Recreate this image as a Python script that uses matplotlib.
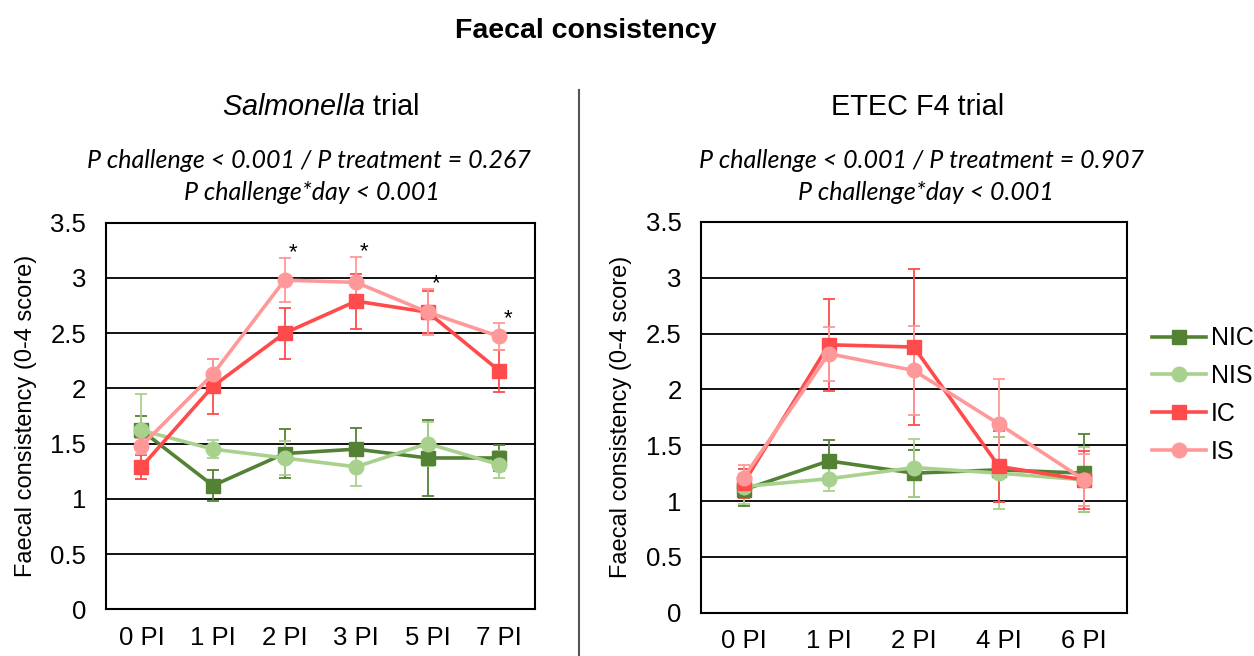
import matplotlib
matplotlib.use("Agg")
import matplotlib.pyplot as plt
from matplotlib.lines import Line2D
import numpy as np

plt.rcParams['font.family'] = ['Liberation Sans', 'DejaVu Sans']
plt.rcParams['mathtext.fontset'] = 'custom'
plt.rcParams['mathtext.it'] = 'Liberation Sans:italic'
plt.rcParams['mathtext.rm'] = 'Liberation Sans'

groups = ['NIC', 'NIS', 'IC', 'IS']
colors = {'NIC': '#548235', 'NIS': '#A9D18E', 'IC': '#FF4B4B', 'IS': '#FF9999'}
markers = {'NIC': 's', 'NIS': 'o', 'IC': 's', 'IS': 'o'}

# Salmonella trial
sal_days = ['0 PI', '1 PI', '2 PI', '3 PI', '5 PI', '7 PI']
sal_mean = {
    'NIC': [1.62, 1.12, 1.41, 1.45, 1.37, 1.37],
    'NIS': [1.62, 1.45, 1.37, 1.29, 1.50, 1.31],
    'IC':  [1.29, 2.02, 2.50, 2.79, 2.69, 2.16],
    'IS':  [1.48, 2.13, 2.98, 2.96, 2.69, 2.47],
}
sal_err = {
    'NIC': [0.13, 0.14, 0.22, 0.19, 0.34, 0.12],
    'NIS': [0.33, 0.08, 0.15, 0.17, 0.20, 0.12],
    'IC':  [0.11, 0.25, 0.23, 0.25, 0.19, 0.19],
    'IS':  [0.07, 0.14, 0.20, 0.23, 0.21, 0.12],
}
sal_signif = [False, False, True, True, True, True]

# ETEC F4 trial
etec_days = ['0 PI', '1 PI', '2 PI', '4 PI', '6 PI']
etec_mean = {
    'NIC': [1.10, 1.36, 1.25, 1.28, 1.25],
    'NIS': [1.13, 1.20, 1.30, 1.25, 1.19],
    'IC':  [1.16, 2.40, 2.38, 1.31, 1.19],
    'IS':  [1.21, 2.32, 2.17, 1.69, 1.19],
}
etec_err = {
    'NIC': [0.14, 0.19, 0.21, 0.29, 0.35],
    'NIS': [0.16, 0.11, 0.26, 0.32, 0.29],
    'IC':  [0.13, 0.41, 0.70, 0.32, 0.26],
    'IS':  [0.11, 0.24, 0.40, 0.40, 0.23],
}

fig = plt.figure(figsize=(12.54, 6.56), dpi=100)
ax1 = fig.add_axes([0.0843, 0.0712, 0.3423, 0.5893])
ax2 = fig.add_axes([0.559, 0.066, 0.3395, 0.5956])


def draw_panel(ax, days, means, errs):
    x = np.arange(len(days))
    for g in groups:
        ax.errorbar(x, means[g], yerr=errs[g], color=colors[g], marker=markers[g],
                    markersize=10 if markers[g] == 's' else 10.5, lw=2.6,
                    elinewidth=1.3, capsize=4.5, capthick=1.3, zorder=3)
    ax.set_xlim(-0.5, len(days) - 0.5)
    ax.set_ylim(0, 3.5)
    ax.set_yticks(np.arange(0, 3.51, 0.5))
    ax.set_yticklabels(['0', '0.5', '1', '1.5', '2', '2.5', '3', '3.5'])
    ax.set_xticks(x)
    ax.set_xticklabels(days)
    ax.yaxis.grid(True, color='black', lw=1.3)
    ax.set_axisbelow(True)
    ax.tick_params(length=0, labelsize=18.5)
    ax.tick_params(axis='y', pad=14)
    ax.tick_params(axis='x', pad=12)
    for s in ax.spines.values():
        s.set_linewidth(1.5)
    ax.set_ylabel('Faecal consistency (0-4 score)', fontsize=17, labelpad=10)


draw_panel(ax1, sal_days, sal_mean, sal_err)
draw_panel(ax2, etec_days, etec_mean, etec_err)

# asterisks above the IS error bars
for i, sig in enumerate(sal_signif):
    if sig:
        top = max(sal_mean['IS'][i] + sal_err['IS'][i], sal_mean['IC'][i] + sal_err['IC'][i])
        ax1.annotate('*', (i, top), xytext=(6, -4), textcoords='offset points',
                     ha='center', va='bottom', fontsize=16)

fig.text(0.467, 0.953, 'Faecal consistency', fontsize=20.5, fontweight='bold',
         ha='center', va='center')
fig.text(0.256, 0.837, r'$\mathit{Salmonella}$ trial', fontsize=20.8, ha='center', va='center')
fig.text(0.732, 0.837, 'ETEC F4 trial', fontsize=20.8, ha='center', va='center')

pfont = dict(family='Lato', style='italic', fontsize=18, ha='center', va='center')
fig.text(0.246, 0.756, 'P challenge < 0.001 / P treatment = 0.267', **pfont)
fig.text(0.249, 0.707, 'P challenge*day < 0.001', **pfont)
fig.text(0.735, 0.756, 'P challenge < 0.001 / P treatment = 0.907', **pfont)
fig.text(0.738, 0.707, 'P challenge*day < 0.001', **pfont)

# separator between the two trials
fig.add_artist(Line2D([0.4617, 0.4617], [0.0, 0.863], color='#555555', lw=1.5))

handles = [Line2D([], [], color=colors[g], marker=markers[g], lw=2.6,
                  markersize=10 if markers[g] == 's' else 10.5) for g in groups]
fig.legend(handles, groups, loc='center left', bbox_to_anchor=(0.919, 0.398),
           frameon=False, fontsize=18, handlelength=2.15, handletextpad=0.2,
           labelspacing=0.55, borderpad=0, borderaxespad=0)

fig.savefig('out.png', dpi=100)
